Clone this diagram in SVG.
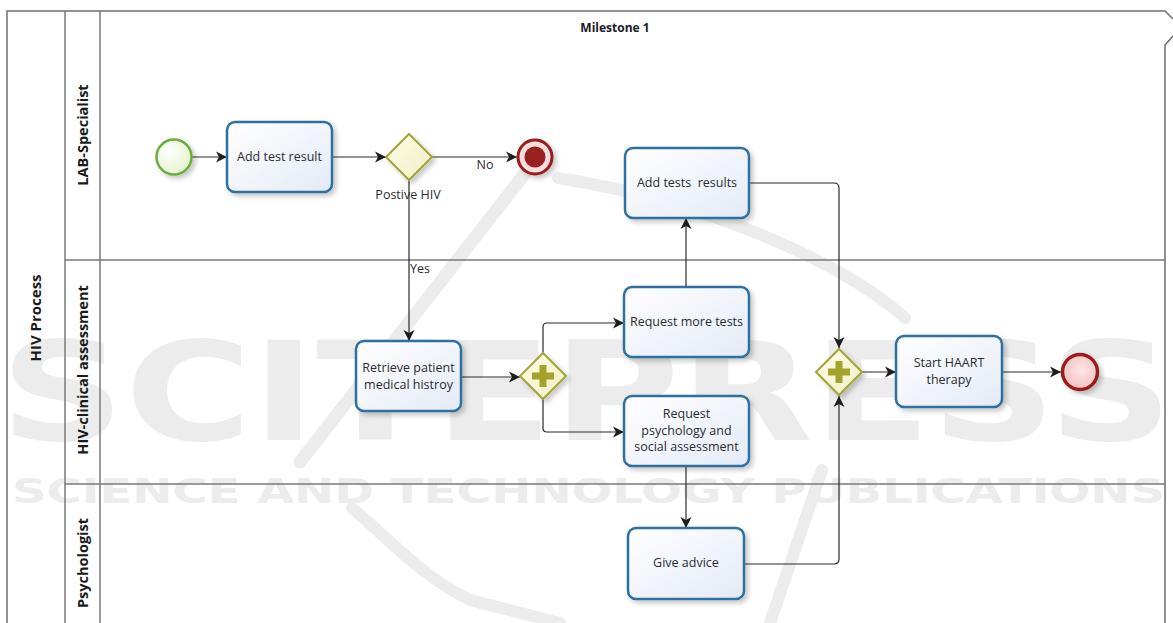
<svg xmlns="http://www.w3.org/2000/svg" width="1173" height="623" viewBox="0 0 1173 623">
<style>
.pool{fill:none;stroke:#6e6e6e;stroke-width:1.5}
.lane{fill:none;stroke:#7a7a7a;stroke-width:1.5}
.task{fill:url(#taskGrad);stroke:#2f6f9f;stroke-width:2.5;filter:url(#shadow)}
.gw{fill:url(#gwGrad);stroke:#a3a338;stroke-width:2;filter:url(#shadow)}
.plus{fill:#a3a32c}
.conn{fill:none;stroke:#2a2a2a;stroke-width:1.2;marker-end:url(#arrow)}
.t{font-family:"Open Sans","Noto Sans",sans-serif;font-size:12.5px;fill:#2b2b33;text-anchor:middle}
.lbl{font-family:"Open Sans","Noto Sans",sans-serif;font-size:12.5px;fill:#2b2b33;text-anchor:middle}
.ln{font-family:"Open Sans","Noto Sans",sans-serif;font-size:14.5px;font-weight:bold;fill:#1a1a1a;text-anchor:middle}
.ms{font-family:"Open Sans","Noto Sans",sans-serif;font-size:12px;font-weight:bold;fill:#1a1a2a;text-anchor:middle}
.wm{font-family:"DejaVu Sans",sans-serif;font-weight:bold;fill:#ececec}
.wms{fill:none;stroke:#ececec;stroke-linecap:round}
</style>
<defs>
<linearGradient id="taskGrad" x1="0" y1="0" x2="1" y2="1">
<stop offset="0" stop-color="#ffffff"/>
<stop offset="1" stop-color="#e4eaf6"/>
</linearGradient>
<linearGradient id="gwGrad" x1="0" y1="0" x2="1" y2="1">
<stop offset="0" stop-color="#fdfde8"/>
<stop offset="1" stop-color="#efefc4"/>
</linearGradient>
<radialGradient id="startGrad" cx="0.35" cy="0.35" r="0.8">
<stop offset="0" stop-color="#ffffff"/>
<stop offset="1" stop-color="#e3f0c4"/>
</radialGradient>
<radialGradient id="endGrad" cx="0.55" cy="0.45" r="0.7">
<stop offset="0" stop-color="#fde6e6"/>
<stop offset="1" stop-color="#eeb8b8"/>
</radialGradient>
<filter id="shadow" x="-20%" y="-20%" width="150%" height="150%">
<feDropShadow dx="3" dy="3" stdDeviation="2.5" flood-color="#000" flood-opacity="0.22"/>
</filter>
<marker id="arrow" markerUnits="userSpaceOnUse" markerWidth="12" markerHeight="12" viewBox="0 0 12 12" refX="11" refY="6" orient="auto">
<path d="M0,0.5 L11,6 L0,11.5 L3,6 z" fill="#1e1e1e"/>
</marker>
</defs>
<rect width="1173" height="623" fill="#ffffff"/>

<g id="watermark">
<path class="wms" stroke-width="13" d="M526,172 L300,462"/>
<path class="wms" stroke-width="12" d="M558,178 C700,200 840,260 905,318"/>
<path class="wms" stroke-width="12" d="M352,508 C390,540 420,575 470,600 L560,623"/>
<path class="wms" stroke-width="12" d="M822,470 L770,623"/>
<text class="wm" x="0" y="440" font-size="138" textLength="1173" lengthAdjust="spacingAndGlyphs">SCITEPRESS</text>
<text class="wm" x="12" y="503" font-size="34" textLength="1153" lengthAdjust="spacingAndGlyphs">SCIENCE AND TECHNOLOGY PUBLICATIONS</text>
</g>

<g id="pool">
<path class="pool" d="M7,640 V11 H1165 L1173,19 M1173,36 L1165,45 V640"/>
<path class="lane" d="M65,11 V640 M100,11 V640 M65,260 H1165 M65,484 H1165"/>
<text class="ln" transform="translate(41,318) rotate(-90)" style="font-size:15px">HIV Process</text>
<text class="ln" transform="translate(88,135) rotate(-90)">LAB-Specialist</text>
<text class="ln" transform="translate(88,370) rotate(-90)">HIV-clinical assessment</text>
<text class="ln" transform="translate(88,563) rotate(-90)">Psychologist</text>
<text class="ms" x="615" y="32">Milestone 1</text>
</g>

<g id="connectors">
<path class="conn" d="M192,157 H227"/>
<path class="conn" d="M332,157 H386"/>
<path class="conn" d="M432,157 H517"/>
<path class="conn" d="M409,181 V341"/>
<path class="conn" d="M461,377 H520"/>
<path class="conn" d="M543,353 V327 Q543,323 547,323 H624"/>
<path class="conn" d="M543,399 V428 Q543,432 547,432 H624"/>
<path class="conn" d="M686,287 V218"/>
<path class="conn" d="M749,183 H834 Q839,183 839,188 V348"/>
<path class="conn" d="M686,466 V528"/>
<path class="conn" d="M744,564 H834 Q839,564 839,559 V396"/>
<path class="conn" d="M862,372 H896"/>
<path class="conn" d="M1002,372 H1061"/>
<text class="lbl" x="485" y="169">No</text>
<text class="lbl" x="420" y="273">Yes</text>
</g>

<g id="start">
<circle cx="174" cy="157" r="17.5" fill="url(#startGrad)" stroke="#6aaf3d" stroke-width="2.5" filter="url(#shadow)"/>
</g>

<g id="task-add-test-result">
<rect class="task" x="227" y="122" width="105" height="70" rx="8"/>
<text class="t" x="279.5" y="161">Add test result</text>
</g>

<g id="gw-positive-hiv">
<path class="gw" d="M409,134 L432,157 L409,180 L386,157 z"/>
<text class="lbl" x="408" y="199">Postive HIV</text>
</g>

<g id="end-terminate">
<circle cx="535" cy="157" r="17" fill="#f7dede" stroke="#9a1f1f" stroke-width="3" filter="url(#shadow)"/>
<circle cx="535" cy="157" r="10.5" fill="#9a1f1f"/>
</g>

<g id="task-add-tests-results">
<rect class="task" x="625" y="148" width="124" height="70" rx="8"/>
<text class="t" x="687" y="187" xml:space="preserve">Add tests  results</text>
</g>

<g id="task-retrieve">
<rect class="task" x="356" y="341" width="105" height="70" rx="8"/>
<text class="t" x="408.5" y="372">Retrieve patient</text>
<text class="t" x="408.5" y="389">medical histroy</text>
</g>

<g id="gw-split">
<path class="gw" d="M543,353 L566,376 L543,399 L520,376 z"/>
<path class="plus" d="M539.5,365 h7 v7.5 h7.5 v7 h-7.5 v7.5 h-7 v-7.5 h-7.5 v-7 h7.5 z"/>
</g>

<g id="task-request-more-tests">
<rect class="task" x="624" y="287" width="125" height="70" rx="8"/>
<text class="t" x="686.5" y="326">Request more tests</text>
</g>

<g id="task-request-psych">
<rect class="task" x="624" y="396" width="125" height="70" rx="8"/>
<text class="t" x="686.5" y="418">Request</text>
<text class="t" x="686.5" y="435">psychology and</text>
<text class="t" x="686.5" y="451">social assessment</text>
</g>

<g id="task-give-advice">
<rect class="task" x="628" y="528" width="116" height="71" rx="8"/>
<text class="t" x="686" y="567">Give advice</text>
</g>

<g id="gw-join">
<path class="gw" d="M839,349 L862,372 L839,395 L816,372 z"/>
<path class="plus" d="M835.5,361 h7 v7.5 h7.5 v7 h-7.5 v7.5 h-7 v-7.5 h-7.5 v-7 h7.5 z"/>
</g>

<g id="task-start-haart">
<rect class="task" x="896" y="336" width="106" height="71" rx="8"/>
<text class="t" x="949" y="367">Start HAART</text>
<text class="t" x="949" y="384">therapy</text>
</g>

<g id="end">
<circle cx="1080" cy="372" r="17.5" fill="url(#endGrad)" stroke="#9a1f1f" stroke-width="3.5" filter="url(#shadow)"/>
</g>
</svg>
